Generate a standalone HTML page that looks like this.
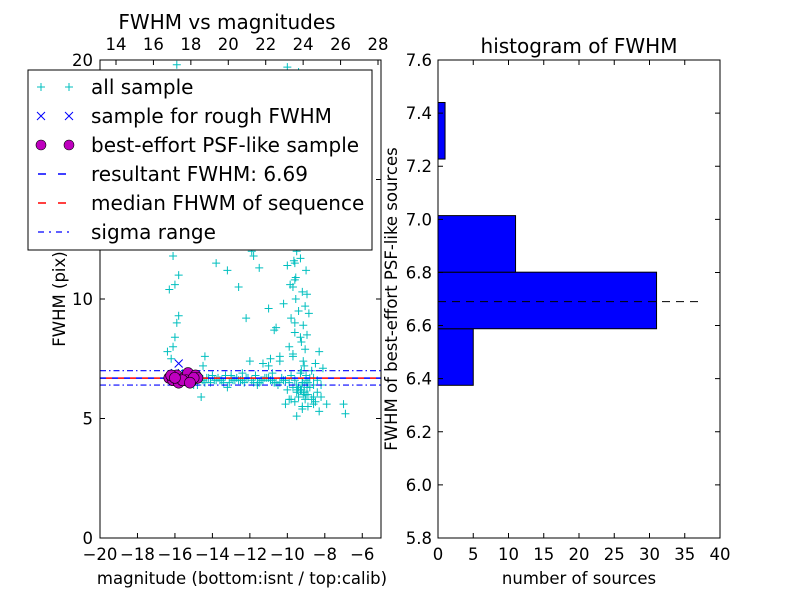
<!DOCTYPE html>
<html><head><meta charset="utf-8">
<style>
body{margin:0;background:#fff;}
svg{display:block;font-family:"DejaVu Sans","Liberation Sans",sans-serif;}
</style></head>
<body>
<svg id="fig" width="800" height="600" viewBox="0 0 800 600">
<rect width="800" height="600" fill="#fff"/>
<g id="left"></g>
<g id="right"></g>
</svg>
<script>
// ---- data ----
const allMag = [-16.3,-16.1,-15.9,-15.7,-15.5,-15.3,-15.1,-14.9,-14.7,-14.5,-14.3,-14.1,-13.9,-13.7,-13.5,-13.3,-13.1,-12.9,-12.7,-12.5,-12.3,-12.1,-11.9,-11.7,-11.5,-11.3,-11.1,-10.9,-10.7,-10.5,-10.3,-10.1,-9.9,-9.7,-9.5,-9.3,-9.1,-8.9,-8.7,-8.5,-15.6,-14.8,-14.0,-13.2,-12.4,-11.6,-10.8,-10.0,-9.4,-8.8,-12.0,-11.0,-10.4,-9.8,-9.2,-8.6,-8.3,-7.9,-7.0,-6.9,
 -16.2,-16.1,-16.0,-15.9,-16.3,-16.0,-15.8,-16.1,-15.9,-16.0,-15.7,-16.2,-15.6,-15.5,-15.3,-15.8,-16.4,-15.9,
 -9.9,-9.8,-9.7,-9.6,-9.5,-9.4,-9.3,-9.2,-9.1,-9.0,-8.9,-8.8,-9.6,-9.4,-9.2,-9.0,-9.5,-9.3,-9.1,-9.7,-9.8,-9.2,-9.0,-8.9,-9.4,-9.6,-9.3,-9.1,-9.5,-9.0,-8.8,-9.2,-9.4,-9.6,-9.3,-9.7,-9.1,-8.7,-8.5,-8.3,-8.1,-9.9,-10.1,-10.4,-10.6,-10.2,-11.0,-11.5,-11.9,-12.6,-13.2,-14.4,-12.2,-10.9,-10.7,-11.3,-10.0,-9.8,-9.0,-8.6,-8.4,-8.2,-9.5,-9.2,-8.9,-8.6,-10.5,-11.8,-12.0,-13.8,-14.5,-15.0,
 -9.45,-9.35,-9.25,-9.15,-9.05,-8.95,-9.55,-9.65,-9.45,-9.35,-9.25,-9.15,-9.05,-9.55,-9.65,-9.75,-9.45,-9.35,-9.25,-9.15,-9.05,-8.95,-8.85,-9.55,-9.85,-10.0,-9.45,-9.35,-9.25,-9.15,-9.05,-8.95,-9.5,-9.6,-9.7,-9.3,-9.2,-9.1,-9.0,-8.9,-9.4,-9.3,
 -15.0,-14.6,-14.2,-13.8,-13.4,-13.0,-12.6,-12.2,-11.8,-11.4,-11.0,-10.6,-10.2,-9.8,-9.6,-9.2,-8.8,-8.4,-8.2,-14.4,-13.6,-12.8,-11.2,-10.4,-9.0,-8.6,-10.8,-11.6,-12.4,-13.0];
const allFwhm = [6.6,6.7,6.5,6.8,6.6,6.7,6.5,6.6,6.8,6.6,6.7,6.5,6.6,6.7,6.6,6.8,6.5,6.6,6.7,6.6,6.5,6.7,6.6,6.8,6.5,6.6,6.7,6.6,6.5,6.4,6.7,6.6,6.5,6.3,6.4,6.2,6.1,6.0,5.8,5.7,6.9,6.4,6.8,6.3,6.9,6.4,6.9,6.2,5.9,6.3,7.4,7.2,7.6,5.8,5.5,5.6,5.3,5.6,5.6,5.2,
 7.5,8.0,8.4,9.0,10.4,10.6,11.0,11.8,12.4,13.5,14.8,15.5,16.5,17.2,18.5,9.3,7.8,19.8,
 8.0,9.2,10.5,11.5,12.5,13.4,14.3,15.2,16.1,17.0,18.0,19.0,8.6,9.5,10.3,11.2,12.0,12.9,13.8,14.6,15.5,16.4,17.3,18.3,19.5,10.8,11.7,12.6,13.2,14.0,15.0,16.8,17.7,9.0,8.4,7.6,7.2,7.0,7.3,7.8,7.1,5.8,5.6,7.4,8.8,9.8,9.6,11.3,12.0,10.5,11.2,7.6,9.2,7.5,8.7,7.3,19.7,18.8,6.0,5.9,6.1,5.9,5.1,5.4,5.5,6.4,13.0,11.8,12.8,11.5,7.2,6.4,6.2,20.5,
 8.2,8.9,9.7,10.2,10.9,11.6,12.3,13.1,13.9,14.5,15.3,16.2,17.1,18.1,18.9,19.4,7.0,7.4,7.9,8.5,9.4,10.0,10.6,11.4,12.2,13.6,6.2,6.0,5.8,6.3,6.1,5.7,7.7,6.9,6.5,6.4,6.8,6.5,6.3,6.2,6.7,5.9,
 6.7,6.6,6.5,6.8,6.6,6.7,6.5,6.6,6.7,6.5,6.6,6.8,6.6,6.5,6.7,6.6,6.4,6.5,6.6,6.6,6.7,6.5,6.6,6.7,6.6,6.5,6.6,6.7,6.6,6.5];
const roughMag = [-15.8,-16.0,-15.6,-15.2];
const roughFwhm = [7.3,6.9,6.8,6.7];
const psfMag = [-16.3,-16.1,-15.9,-15.7,-15.5,-15.3,-15.1,-14.9,-14.8,-16.2,-15.8,-15.4,-15.0,-15.6,-16.0,-15.2];
const psfFwhm = [6.7,6.6,6.8,6.6,6.7,6.9,6.6,6.8,6.7,6.8,6.5,6.6,6.7,6.6,6.7,6.5];
const resultFwhm = 6.69;
const sigmaLow = 6.4, sigmaHigh = 7.0;
const xTicks = [-20,-18,-16,-14,-12,-10,-8,-6];
const xTickLabels = ["\u221220","\u221218","\u221216","\u221214","\u221212","\u221210","\u22128","\u22126"];
const topTicks = [14,16,18,20,22,24,26,28];
const yTicks = [0,5,10,15,20];
const binEdges = [6.375,6.588,6.801,7.014,7.227,7.44];
const binCounts = [5,31,11,0,1];
const hxTicks = [0,5,10,15,20,25,30,35,40];
const hyTicks = [5.8,6.0,6.2,6.4,6.6,6.8,7.0,7.2,7.4,7.6];

// ---- helpers ----
const NS="http://www.w3.org/2000/svg";
function mk(parent,tag,attrs,text){const e=document.createElementNS(NS,tag);for(const k in attrs)e.setAttribute(k,attrs[k]);if(text!==undefined)e.textContent=text;parent.appendChild(e);return e;}
const L={x0:100,x1:381,y0:60,y1:538}, R={x0:438,x1:720,y0:60,y1:538};
const sx=v=>L.x0+(v+20)/15*(L.x1-L.x0);
const sy=v=>L.y1-v/20*(L.y1-L.y0);
const st=v=>116+(v-14)*(378-116)/14;
const hx=v=>R.x0+v/40*(R.x1-R.x0);
const hy=v=>R.y1-(v-5.8)/1.8*(R.y1-R.y0);
const TF=16.5;

const left=document.getElementById('left');
const right=document.getElementById('right');
const clip=mk(document.getElementById('fig'),'clipPath',{id:'lc'});
mk(clip,'rect',{x:L.x0,y:L.y0,width:L.x1-L.x0,height:L.y1-L.y0});
const plot=mk(left,'g',{'clip-path':'url(#lc)'});



for(let i=0;i<allMag.length;i++){
  const x=sx(allMag[i]),y=sy(allFwhm[i]);
  const g=mk(plot,'path',{d:`M${x-4},${y}h8M${x},${y-4}v8`,stroke:'#00bfbf','stroke-width':1});
  
  
}
const l1=mk(plot,'line',{x1:L.x0,x2:L.x1,y1:sy(resultFwhm),y2:sy(resultFwhm),stroke:'#0000ff','stroke-dasharray':'6 6','stroke-width':1.5});

const l2=mk(plot,'line',{x1:L.x0+6,x2:L.x1,y1:sy(resultFwhm),y2:sy(resultFwhm),stroke:'#ff0000','stroke-dasharray':'6 6','stroke-width':1.5});

[sigmaLow,sigmaHigh].forEach(v=>{
  const s=mk(plot,'line',{x1:L.x0,x2:L.x1,y1:sy(v),y2:sy(v),stroke:'#0000ff','stroke-dasharray':'6 3 1.5 3','stroke-width':1.2});
  
});
for(let i=0;i<roughMag.length;i++){
  const x=sx(roughMag[i]),y=sy(roughFwhm[i]);
  const r=mk(plot,'path',{d:`M${x-4},${y-4}l8,8M${x-4},${y+4}l8,-8`,stroke:'#0000ff','stroke-width':1});
  
}
for(let i=0;i<psfMag.length;i++){
  const c=mk(plot,'circle',{cx:sx(psfMag[i]),cy:sy(psfFwhm[i]),r:5.5,fill:'#bf00bf',stroke:'#000','stroke-width':0.6});
  
}
mk(left,'rect',{x:L.x0,y:L.y0,width:L.x1-L.x0,height:L.y1-L.y0,fill:'none',stroke:'#000',});
xTicks.forEach((v,i)=>{const x=sx(v);mk(left,'path',{d:`M${x},${L.y1}v-5`,stroke:'#000'});
  const t=mk(left,'text',{x:x,y:L.y1+22,'text-anchor':'middle','font-size':TF},xTickLabels[i]);
  });
topTicks.forEach(v=>{const x=st(v);mk(left,'path',{d:`M${x},${L.y0}v5`,stroke:'#000'});
  const t=mk(left,'text',{x:x,y:L.y0-10,'text-anchor':'middle','font-size':TF},String(v));
  });
yTicks.forEach(v=>{const y=sy(v);mk(left,'path',{d:`M${L.x0},${y}h5M${L.x1},${y}h-5`,stroke:'#000'});
  const t=mk(left,'text',{x:L.x0-7,y:y+6,'text-anchor':'end','font-size':TF},String(v));
  });
mk(left,'text',{x:227,y:29,'text-anchor':'middle','font-size':20,},'FWHM vs magnitudes');
mk(left,'text',{x:242,y:584,'text-anchor':'middle','font-size':16.5,},'magnitude (bottom:isnt / top:calib)');
mk(left,'text',{x:0,y:0,transform:'translate(65,299) rotate(-90)','text-anchor':'middle','font-size':16.5,},'FWHM (pix)');

const lg=mk(left,'g',{});

mk(lg,'rect',{x:28,y:70,width:344,height:180,fill:'#fff',stroke:'#000'});
const entries=['all sample','sample for rough FWHM','best-effort PSF-like sample','resultant FWHM: 6.69','median FHWM of sequence','sigma range'];
entries.forEach((txt,i)=>{
  const y=87+i*29;
  const e=mk(lg,'g',{});
  
  if(i==0){[41,69].forEach(x=>mk(e,'path',{d:`M${x-4},${y}h8M${x},${y-4}v8`,stroke:'#00bfbf'}));}
  if(i==1){[41,69].forEach(x=>mk(e,'path',{d:`M${x-4},${y-4}l8,8M${x-4},${y+4}l8,-8`,stroke:'#0000ff'}));}
  if(i==2){[41,69].forEach(x=>mk(e,'circle',{cx:x,cy:y,r:5,fill:'#bf00bf',stroke:'#000','stroke-width':0.6}));}
  if(i==3) mk(e,'line',{x1:38,x2:72,y1:y,y2:y,stroke:'#0000ff','stroke-dasharray':'8 12','stroke-width':1.5});
  if(i==4) mk(e,'line',{x1:38,x2:72,y1:y,y2:y,stroke:'#ff0000','stroke-dasharray':'8 12','stroke-width':1.5});
  if(i==5) mk(e,'line',{x1:38,x2:72,y1:y,y2:y,stroke:'#0000ff','stroke-dasharray':'6 5 2 5','stroke-width':1.2});
  mk(e,'text',{x:91,y:y+7,'font-size':20},txt);
});

for(let i=0;i<binCounts.length;i++){
  if(binCounts[i]<=0)continue;
  const b=mk(right,'rect',{x:hx(0),y:hy(binEdges[i+1]),width:hx(binCounts[i])-hx(0),height:hy(binEdges[i])-hy(binEdges[i+1]),fill:'#0000ff',stroke:'#000','stroke-width':1});
  
}
const hl=mk(right,'line',{x1:hx(0),x2:hx(37),y1:hy(resultFwhm),y2:hy(resultFwhm),stroke:'#000','stroke-dasharray':'8 6'});

mk(right,'rect',{x:R.x0,y:R.y0,width:R.x1-R.x0,height:R.y1-R.y0,fill:'none',stroke:'#000',});
hxTicks.forEach(v=>{const x=hx(v);mk(right,'path',{d:`M${x},${R.y1}v-5M${x},${R.y0}v5`,stroke:'#000'});
  const t=mk(right,'text',{x:x,y:R.y1+22,'text-anchor':'middle','font-size':TF},String(v));
  });
hyTicks.forEach(v=>{const y=hy(v);mk(right,'path',{d:`M${R.x0},${y}h5M${R.x1},${y}h-5`,stroke:'#000'});
  const t=mk(right,'text',{x:R.x0-6,y:y+6,'text-anchor':'end','font-size':TF},v.toFixed(1));
  });
mk(right,'text',{x:579,y:53,'text-anchor':'middle','font-size':20,},'histogram of FWHM');
mk(right,'text',{x:579,y:584,'text-anchor':'middle','font-size':16.5,},'number of sources');
mk(right,'text',{x:0,y:0,transform:'translate(397,299) rotate(-90)','text-anchor':'middle','font-size':16.5,},'FWHM of best-effort PSF-like sources');
</script>
</body></html>
